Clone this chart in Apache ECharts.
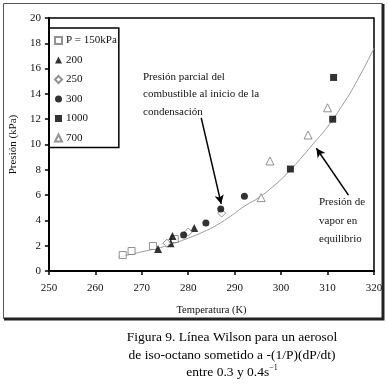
<!DOCTYPE html>
<html>
<head>
<meta charset="utf-8">
<script src="https://cdn.jsdelivr.net/npm/echarts@6/dist/echarts.min.js"></script>
<style>
  html, body { margin: 0; padding: 0; background: #fff; }
  #main { width: 388px; height: 387px; }
</style>
</head>
<body>
<div id="main"></div>
<script>
// Datos: [T (K), P (kPa)]
const p150 = [[265.9, 1.26], [267.8, 1.58], [272.4, 1.98], [277.1, 2.53]];
const p200 = [[273.5, 1.74], [276.2, 2.2], [276.6, 2.77], [281.3, 3.4]];
const p250 = [[275.4, 2.2], [280.0, 3.08], [287.2, 4.58]];
const p300 = [[279.0, 2.85], [283.8, 3.8], [287.0, 4.9], [292.1, 5.9]];
const p1000 = [[302.0, 8.06], [311.1, 12.0], [311.3, 15.3]];
const p700 = [[295.7, 5.8], [297.6, 8.7], [305.8, 10.75], [310.0, 12.9]];

// Presión de vapor en equilibrio (curva)
const curveT = [265, 268, 271, 274, 277, 280, 283, 286, 289, 292, 295, 298, 301, 304, 307, 310, 313, 316, 320];
const curveP = [1.1, 1.35, 1.6, 1.85, 2.2, 2.6, 3.05, 3.6, 4.3, 5.1, 5.75, 6.6, 7.6, 8.8, 10.1, 11.4, 13.0, 14.8, 17.6];

const legendNames = ['P = 150kPa', '200', '250', '300', '1000', '700'];

const serif = 'Liberation Serif';
const chartDom = document.getElementById('main');
const myChart = echarts.init(chartDom);

function scatter(name, data, symbol, size, filled) {
    return {
        name: name,
        type: 'scatter',
        data: data,
        symbol: symbol,
        symbolSize: size,
        itemStyle: filled
            ? { color: '#000', borderWidth: 0 }
            : { color: '#fff', borderColor: '#777', borderWidth: 1 },
        z: 5
    };
}

const option = {
    animation: false,
    backgroundColor: '#fff',
    textStyle: { fontFamily: serif },
    grid: {
        left: 43,
        right: 14,
        top: 18,
        bottom: 116,
        show: true,
        borderColor: '#000',
        borderWidth: 1.5,
        backgroundColor: 'transparent'
    },
    legend: {
        data: legendNames,
        orient: 'vertical',
        left: 49,
        top: 28,
        padding: [7, 2, 4, 5],
        itemWidth: 7,
        itemHeight: 7,
        itemGap: 8.5,
        borderColor: '#000',
        borderWidth: 1.5,
        textStyle: { fontFamily: serif, fontSize: 11, color: '#111', padding: [0, 0, 0, -1] }
    },
    xAxis: {
        type: 'value',
        min: 250,
        max: 320,
        interval: 10,
        name: 'Temperatura (K)',
        nameLocation: 'middle',
        nameGap: 34,
        nameTextStyle: { fontFamily: serif, fontSize: 10.5, color: '#111' },
        axisLine: { lineStyle: { color: '#000', width: 2 } },
        axisTick: { show: true, length: 4, lineStyle: { color: '#000', width: 1.5 } },
        axisLabel: { fontFamily: serif, fontSize: 11, color: '#111', margin: 12 },
        splitLine: { show: false }
    },
    yAxis: {
        type: 'value',
        min: 0,
        max: 20,
        interval: 2,
        name: 'Presión (kPa)',
        nameLocation: 'middle',
        nameGap: 28,
        nameTextStyle: { fontFamily: serif, fontSize: 11, color: '#111' },
        axisLine: { show: true, lineStyle: { color: '#000', width: 2 } },
        axisTick: { show: true, length: 4, lineStyle: { color: '#000', width: 1.5 } },
        axisLabel: { fontFamily: serif, fontSize: 11, color: '#111', margin: 8 },
        splitLine: { show: false }
    },
    series: [
        {
            name: 'equilibrio',
            type: 'line',
            data: curveT.map((t, i) => [t, curveP[i]]),
            smooth: true,
            showSymbol: false,
            lineStyle: { color: '#999', width: 1 },
            silent: true,
            z: 2,
            markLine: {
                silent: true,
                symbol: ['none', 'arrow'],
                symbolSize: [7, 9],
                label: { show: false },
                lineStyle: { color: '#000', width: 1.5, type: 'solid' },
                data: [
                    [{ coord: [282.8, 12.1], lineStyle: { curveness: 0.06 } }, { coord: [287.1, 5.3] }],
                    [{ coord: [314.5, 6.0] }, { coord: [307.6, 9.7] }]
                ]
            }
        },
        scatter('P = 150kPa', p150, 'rect', 7, false),
        scatter('200', p200, 'triangle', 8, true),
        scatter('250', p250, 'diamond', 8, false),
        scatter('300', p300, 'circle', 7, true),
        scatter('1000', p1000, 'rect', 7, true),
        scatter('700', p700, 'triangle', 8, false)
    ],
    graphic: [
        {
            type: 'rect',
            shape: { x: 3.5, y: 3.5, width: 379, height: 315 },
            style: { fill: 'none', stroke: '#555', lineWidth: 1 },
            z: -1
        },
        {
            type: 'polyline',
            shape: { points: [[383, 4], [383, 319], [4, 319]] },
            style: { fill: 'none', stroke: '#222', lineWidth: 3 },
            z: -1
        },
        {
            type: 'text',
            left: 143,
            top: 68,
            style: {
                text: 'Presión parcial del\ncombustible al inicio de la\ncondensación',
                font: '11px "Liberation Serif"',
                lineHeight: 17.5,
                fill: '#111'
            }
        },
        {
            type: 'text',
            left: 319,
            top: 193,
            style: {
                text: 'Presión de\nvapor en\nequilibrio',
                font: '11px "Liberation Serif"',
                lineHeight: 18.5,
                fill: '#111'
            }
        },
        {
            type: 'text',
            x: 232,
            y: 329,
            style: {
                text: 'Figura 9. Línea Wilson para un aerosol\nde iso-octano sometido a -(1/P)(dP/dt)\nentre 0.3 y 0.4s{sup|−1}',
                font: '13.5px "Liberation Serif"',
                lineHeight: 17.5,
                align: 'center',
                verticalAlign: 'top',
                fill: '#000',
                rich: {
                    sup: { fontSize: 8, verticalAlign: 'top', padding: [0, 0, 8, 0], fontFamily: serif, fill: '#000' }
                }
            }
        }
    ]
};

myChart.setOption(option);

window.addEventListener('resize', function () {
    myChart.resize();
});
</script>
</body>
</html>
